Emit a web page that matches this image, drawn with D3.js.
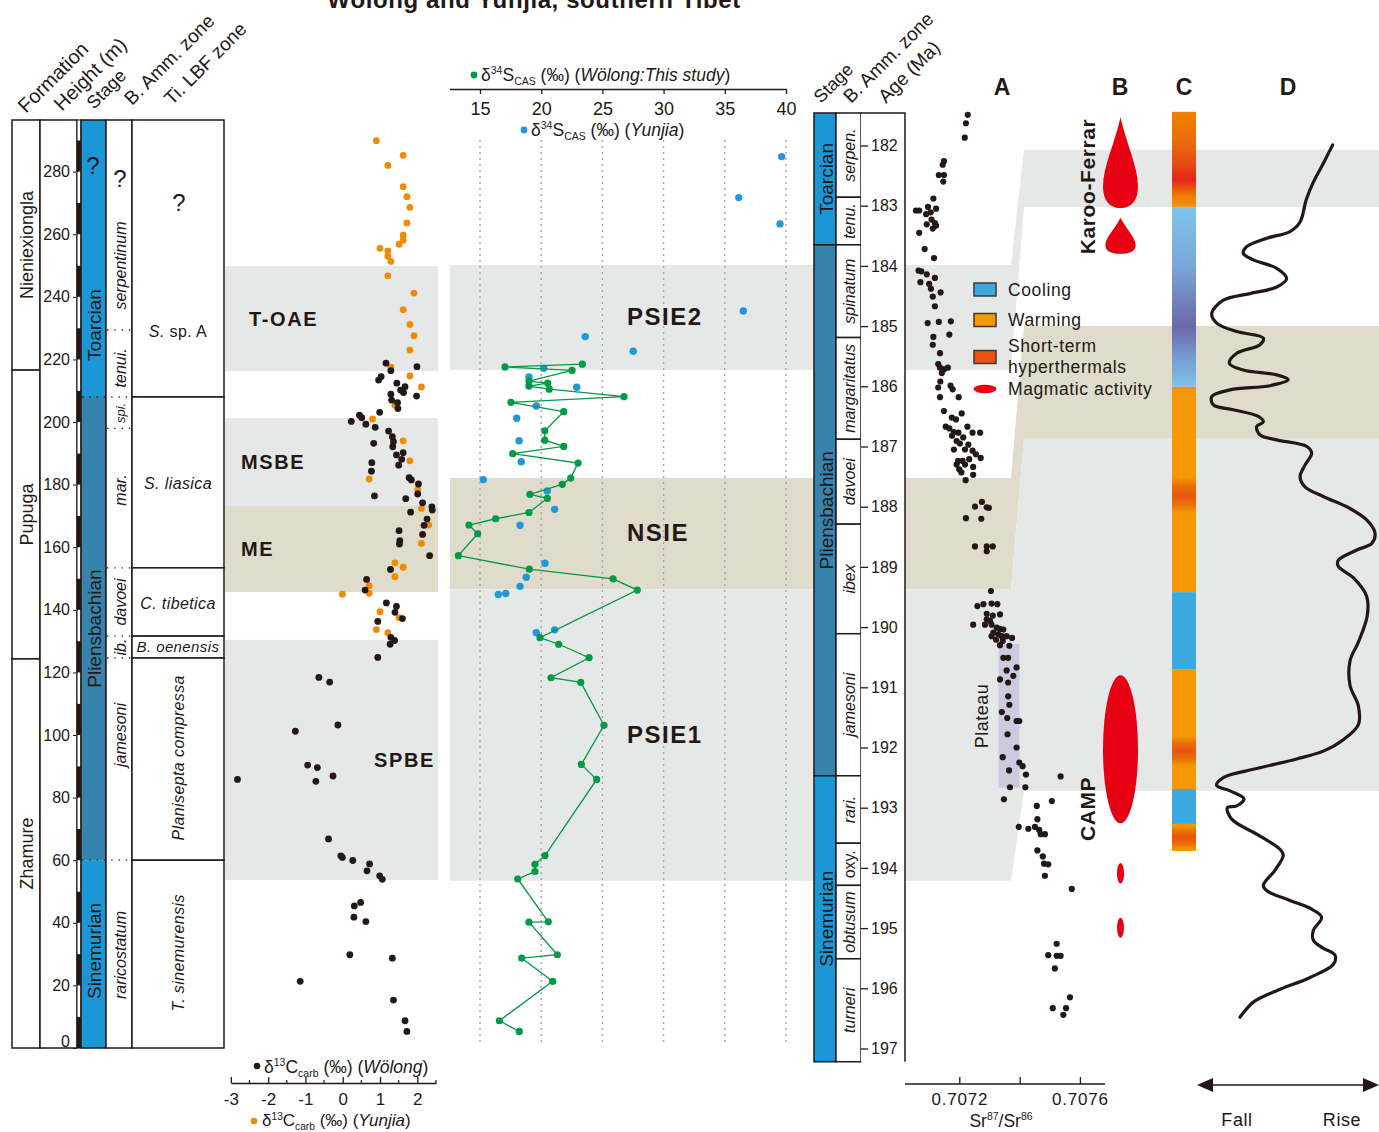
<!DOCTYPE html>
<html><head><meta charset="utf-8">
<script src="https://cdn.jsdelivr.net/npm/d3@7"></script>
<style>
body{margin:0;background:#fff}
svg{display:block}
text{font-family:"Liberation Sans",Arial,Helvetica,sans-serif;fill:#231815}
</style></head>
<body><svg id="c" width="1379" height="1132"></svg>
<script>
// ---------------- DATA ----------------
const heightTicks = [0,20,40,60,80,100,120,140,160,180,200,220,240,260,280];
const carbonTicks = [-3,-2,-1,0,1,2];
const carbonMinorTicks = [-2.5,-1.5,-0.5,0.5,1.5,2.5];
const sulfurTicks = [15,20,25,30,35,40];
const ageTicks = [182,183,184,185,186,187,188,189,190,191,192,193,194,195,196,197];
const srTicks = [0.7072,0.7074,0.7076];
const srTickLabels = ["0.7072","","0.7076"];

const formations = [
  {name:"Nieniexiongla", from:216.6, to:296.5},
  {name:"Pupuga", from:124.3, to:216.6},
  {name:"Zhamure", from:0, to:124.3}
];
const stagesLeft = [
  {name:"Toarcian", from:208, to:296.5, label:231, kind:"a"},
  {name:"Pliensbachian", from:60, to:208, label:134, kind:"b"},
  {name:"Sinemurian", from:0, to:60, label:31, kind:"a"}
];
const ammLeft = [
  {name:"serpentinum", from:229.4, to:296.5, label:250},
  {name:"tenui.", from:208, to:229.4, label:217.3},
  {name:"spi.", from:198, to:208, label:202.9},
  {name:"mar.", from:153.4, to:198, label:178.3},
  {name:"davoei", from:131.6, to:153.4, label:142.5},
  {name:"ib.", from:124.6, to:131.6, label:128.1},
  {name:"jamesoni", from:60, to:124.6, label:100},
  {name:"raricostatum", from:0, to:60, label:29.7}
];
const tiZones = [
  {name:"S. sp. A", from:208, to:296.5, label:228.8, rot:false},
  {name:"S. liasica", from:153.4, to:208, label:180.5, rot:false},
  {name:"C. tibetica", from:131.6, to:153.4, label:142.2, rot:false},
  {name:"B. oenensis", from:124.6, to:131.6, label:128.1, rot:false},
  {name:"Planisepta compressa", from:60, to:124.6, label:92.7, rot:true},
  {name:"T. sinemurensis", from:0, to:60, label:30.4, rot:true}
];
const unknownMarks = [{col:"stage", h:282}, {col:"amm", h:277.8}, {col:"ti", h:270}];

const stagesRight = [
  {name:"Toarcian", from:181.46, to:183.65, kind:"a"},
  {name:"Pliensbachian", from:183.65, to:192.47, kind:"b"},
  {name:"Sinemurian", from:192.47, to:197.22, kind:"a"}
];
const ammRight = [
  {name:"serpen.", from:181.46, to:182.86},
  {name:"tenu.", from:182.86, to:183.65},
  {name:"spinatum", from:183.65, to:185.19},
  {name:"margaritatus", from:185.19, to:186.88},
  {name:"davoei", from:186.88, to:188.29},
  {name:"ibex", from:188.29, to:190.11},
  {name:"jamesoni", from:190.11, to:192.47},
  {name:"rari.", from:192.47, to:193.59},
  {name:"oxy.", from:193.59, to:194.29, upright:true},
  {name:"obtusum", from:194.29, to:195.51},
  {name:"turneri", from:195.51, to:197.22}
];

// carbon-isotope events (heights, m)
const carbonBands = [
  {name:"T-OAE", from:216.3, to:249.8, kind:"gray"},
  {name:"MSBE", from:173.2, to:201.3, kind:"gray"},
  {name:"ME", from:145.7, to:173.2, kind:"beige"},
  {name:"SPBE", from:53.7, to:130.4, kind:"gray"}
];
// sulfur-isotope events (heights, m) and their projection on the right time scale (Ma)
const sulfurBands = [
  {name:"PSIE2", from:216.6, to:250.2, ageFrom:182.07, ageTo:183.02, kind:"gray"},
  {name:"NSIE", from:146.6, to:182.1, ageFrom:185.0, ageTo:186.87, kind:"beige"},
  {name:"PSIE1", from:53.4, to:146.6, ageFrom:186.87, ageTo:192.72, kind:"gray"}
];

// δ13Ccarb (‰), height (m)
const carbonWolong = [[1.16,218.8],[1.99,217.7],[1.29,216.4],[1.03,214.5],[0.96,213.4],[1.45,212.4],[1.67,211.3],[1.55,210.2],[1.63,209.4],[1.98,208.3],[1.29,208.9],[1.31,207.0],[1.47,206.2],[1.48,204.3],[0.99,203.1],[0.45,202.2],[0.51,201.4],[0.23,200.2],[0.62,199.3],[0.87,198.3],[1.23,197.1],[1.33,195.3],[1.36,193.7],[0.83,193.2],[1.34,192.1],[1.62,190.2],[1.44,189.5],[1.58,188.1],[0.78,187.0],[1.50,186.2],[0.77,184.3],[1.78,182.2],[1.84,181.5],[2.03,180.2],[2.01,177.0],[0.85,176.4],[1.69,175.5],[2.14,174.2],[2.39,172.9],[1.82,171.2],[2.40,171.9],[2.26,169.0],[2.18,167.0],[1.51,165.3],[2.14,164.1],[1.53,162.1],[1.52,161.0],[2.33,157.3],[1.28,152.9],[0.64,149.7],[0.60,146.3],[1.17,142.2],[1.44,141.1],[1.40,139.2],[1.60,137.2],[0.94,136.3],[1.29,131.2],[1.39,130.2],[1.27,129.0],[0.94,124.8],[-0.64,118.4],[-0.35,116.9],[-0.13,103.2],[-1.27,101.2],[-0.94,90.4],[-0.68,89.6],[-0.26,86.9],[-0.72,85.2],[-2.82,85.8],[-0.38,66.8],[-0.05,61.4],[-0.01,60.9],[0.27,59.9],[0.72,58.8],[0.65,56.6],[0.99,55.0],[1.06,53.9],[0.48,46.5],[0.31,45.4],[0.30,41.8],[0.62,40.4],[0.19,29.8],[1.33,28.7],[-1.14,21.3],[1.36,15.3],[1.67,8.7],[1.72,5.3]];
const carbonYunjia = [[0.90,289.9],[1.62,285.2],[1.21,282.0],[1.62,275.2],[1.72,272.0],[1.80,268.6],[1.72,263.6],[1.62,259.7],[1.62,258.1],[1.51,256.8],[1.00,255.5],[1.21,254.7],[1.21,253.0],[1.29,251.3],[1.21,246.7],[1.91,241.2],[1.62,235.9],[1.80,231.2],[1.91,227.6],[1.80,223.0],[1.29,217.5],[1.80,214.7],[2.11,211.2],[1.40,205.4],[0.80,201.0],[1.62,194.0],[1.80,187.6],[0.71,181.8],[2.01,178.5],[2.11,172.4],[2.30,167.1],[2.11,161.2],[1.40,155.0],[1.62,153.6],[1.40,150.6],[0.71,147.7],[-0.01,145.0],[0.71,145.3],[1.00,139.4],[1.51,137.5],[0.90,133.7],[1.21,132.7]];

// δ34S_CAS (‰), height (m)
const sulfurWolong = [[23.36,218.5],[17.04,217.6],[22.52,216.5],[19.00,213.1],[20.53,212.4],[19.00,211.5],[20.66,210.5],[26.76,208.1],[17.53,206.3],[21.84,203.3],[20.29,197.2],[20.29,194.2],[21.84,192.2],[17.67,189.9],[23.01,186.9],[22.41,182.1],[21.72,180.1],[19.08,176.9],[20.50,175.6],[19.00,171.1],[16.28,169.1],[14.10,167.1],[14.81,164.3],[13.23,157.3],[19.03,153.0],[25.87,149.9],[27.85,146.3],[19.90,131.1],[21.43,129.0],[23.91,124.7],[20.80,118.3],[23.23,116.8],[25.13,103.1],[23.28,90.6],[24.53,85.8],[20.31,61.5],[19.49,58.7],[19.49,56.4],[18.08,54.0],[20.58,40.3],[19.00,40.2],[21.32,29.8],[18.41,28.7],[20.94,21.3],[16.58,8.7],[18.21,5.3]];
const sulfurYunjia = [[39.65,284.8],[36.14,271.7],[39.51,263.3],[36.51,235.5],[23.60,227.3],[27.52,222.6],[20.20,217.2],[19.00,214.4],[22.90,211.1],[19.60,205.1],[18.00,201.2],[18.19,194.0],[18.37,187.3],[15.27,181.6],[20.50,178.0],[21.10,172.1],[18.27,167.0],[20.31,154.9],[18.78,150.4],[18.27,147.5],[16.50,144.9],[17.10,145.2],[21.10,133.6],[19.60,132.7]];

// 87Sr/86Sr, age (Ma)
const srRatio = [0.707228,0.707222,0.707218,0.707149,0.707145,0.707132,0.707149,0.707147,0.707056,0.707067,0.707114,0.707096,0.707123,0.707105,0.707090,0.707108,0.707119,0.707092,0.707112,0.707123,0.707067,0.707085,0.707116,0.707065,0.707074,0.707092,0.707071,0.707119,0.707100,0.707106,0.707138,0.707112,0.707119,0.707095,0.707132,0.707172,0.707167,0.707114,0.707112,0.707136,0.707130,0.707136,0.707149,0.707162,0.707142,0.707137,0.707130,0.707171,0.707178,0.707136,0.707198,0.707149,0.707208,0.707175,0.707189,0.707155,0.707227,0.707167,0.707182,0.707197,0.707244,0.707269,0.707176,0.707213,0.707191,0.707202,0.707230,0.707182,0.707219,0.707244,0.707255,0.707271,0.707196,0.707211,0.707233,0.707191,0.707219,0.707200,0.707246,0.707207,0.707246,0.707221,0.707275,0.707252,0.707291,0.707298,0.707222,0.707273,0.707252,0.707291,0.707311,0.707291,0.707305,0.707260,0.707280,0.707307,0.707326,0.707291,0.707311,0.707335,0.707246,0.707291,0.707302,0.707285,0.707307,0.707324,0.707335,0.707346,0.707313,0.707329,0.707307,0.707341,0.707357,0.707322,0.707344,0.707375,0.707335,0.707366,0.707346,0.707362,0.707357,0.707390,0.707379,0.707335,0.707362,0.707362,0.707366,0.707341,0.707359,0.707390,0.707399,0.707360,0.707390,0.707344,0.707399,0.707410,0.707365,0.707421,0.707536,0.707368,0.707419,0.707348,0.707507,0.707457,0.707397,0.707429,0.707459,0.707451,0.707465,0.707470,0.707484,0.707459,0.707477,0.707481,0.707495,0.707484,0.707573,0.707523,0.707495,0.707523,0.707536,0.707517,0.707567,0.707510,0.707554,0.707545];
const srAge = [181.49,181.63,181.87,182.26,182.32,182.49,182.49,182.60,183.08,183.08,182.88,183.02,183.05,183.11,183.14,183.23,183.29,183.31,183.38,183.33,183.45,183.72,183.87,184.08,184.09,184.14,184.27,184.20,184.30,184.38,184.44,184.51,184.67,184.95,184.93,184.92,185.14,185.18,185.31,185.45,185.63,185.69,185.72,185.69,185.78,185.92,186.02,185.99,186.05,186.18,186.18,186.41,186.45,186.52,186.55,186.67,186.67,186.70,186.76,186.77,186.77,186.77,186.82,186.85,186.91,186.95,186.97,187.05,187.05,187.07,187.13,187.19,187.24,187.24,187.21,187.30,187.30,187.38,187.34,187.43,187.47,187.56,187.92,188.00,188.01,188.02,188.19,188.20,188.66,188.66,188.66,188.74,189.40,189.65,189.62,189.61,189.62,189.78,189.81,189.79,189.96,189.87,189.90,189.96,189.96,190.01,190.03,190.04,190.09,190.12,190.15,190.15,190.15,190.21,190.23,190.18,190.30,190.31,190.51,190.51,190.72,190.67,190.81,190.87,190.92,191.15,191.29,191.41,191.51,191.56,191.56,191.78,192.00,192.16,192.25,192.31,192.38,192.45,192.48,192.66,192.66,192.86,192.89,192.97,193.32,193.35,193.19,193.32,193.37,193.44,193.44,193.71,193.81,193.93,193.94,194.13,194.35,195.26,195.45,195.46,195.46,195.67,196.15,196.33,196.33,196.44];
const plateau = {sr:[0.70733,0.70740], age:[190.28,192.67]};

// B: magmatic activity (Ma)
const magmatic = [
  {name:"Karoo-Ferrar", shape:"drop", from:181.53, to:183.04},
  {name:"Karoo-Ferrar", shape:"drop", from:183.20, to:183.80},
  {name:"CAMP", shape:"ellipse", from:190.80, to:193.26},
  {name:"CAMP", shape:"ellipse", from:193.92, to:194.26},
  {name:"CAMP", shape:"ellipse", from:194.83, to:195.16}
];
// C: climate (Ma)
const climate = [
  {from:181.44, to:183.02, kind:"hyperTop", pulse:[182.30,182.85]},
  {from:183.02, to:186.01, kind:"coolDeep", pulse:[185.0,185.0]},
  {from:186.01, to:189.42, kind:"warm", pulse:[187.51,188.11]},
  {from:189.42, to:190.70, kind:"cool"},
  {from:190.70, to:192.69, kind:"warm", pulse:[191.81,192.31]},
  {from:192.69, to:193.27, kind:"cool"},
  {from:193.27, to:193.72, kind:"warm", pulse:[193.30,193.70]}
];
// D: relative sea level (0 = fall, 100 = rise), age (Ma)
const seaLevel = [[74.4,181.99],[69.2,182.30],[63.4,182.63],[59.7,182.91],[56.4,183.27],[50.8,183.43],[38.0,183.54],[26.9,183.68],[25.0,183.79],[30.6,183.90],[43.5,184.04],[49.0,184.21],[43.5,184.35],[28.7,184.46],[14.0,184.57],[7.6,184.79],[10.3,184.95],[21.4,185.09],[36.1,185.20],[34.3,185.31],[21.4,185.45],[17.3,185.62],[25.0,185.73],[43.5,185.81],[49.9,185.89],[39.8,185.99],[17.7,186.06],[7.6,186.17],[8.5,186.31],[19.5,186.39],[33.3,186.50],[36.1,186.59],[32.4,186.67],[34.3,186.81],[43.5,186.89],[60.1,187.00],[62.8,187.11],[59.1,187.31],[56.4,187.50],[59.1,187.67],[69.2,187.83],[84.0,188.03],[93.2,188.22],[97.8,188.44],[96.0,188.61],[87.7,188.72],[77.5,188.89],[77.5,188.99],[85.8,189.18],[93.2,189.49],[93.5,189.81],[88.6,190.25],[84.0,190.56],[84.0,190.97],[88.6,191.31],[88.6,191.62],[80.3,191.87],[69.2,192.06],[54.5,192.19],[32.4,192.35],[14.0,192.50],[10.3,192.63],[17.7,192.72],[25.4,192.85],[21.4,192.97],[16.2,193.00],[18.6,193.19],[32.4,193.44],[45.3,193.69],[47.1,193.79],[42.5,194.04],[36.1,194.29],[38.0,194.38],[50.8,194.54],[61.9,194.67],[68.3,194.82],[63.7,195.04],[63.7,195.20],[68.3,195.32],[75.7,195.45],[74.8,195.60],[61.9,195.82],[43.5,196.04],[30.6,196.23],[23.2,196.48]];

const legendItems = [
  {label:["Cooling"], kind:"cool"},
  {label:["Warming"], kind:"warm"},
  {label:["Short-term","hyperthermals"], kind:"hyper"},
  {label:["Magmatic activity"], kind:"magma"}
];

// ---------------- STYLE / SCALES ----------------
const INK = "#231815", GRAY = "#e6e8e8", BEIGE = "#dfdccb";
const BLUE_A = "#1b96d6", BLUE_B = "#3683ae";
const ORANGE = "#f39800", HYPER = "#e8540f", COOL = "#3ca8e0", RED = "#e60012";
const C_BLACK = "#231815", C_ORANGE = "#f08a00", S_GREEN = "#009944", S_BLUE = "#1f97d8";
const FONT = '"Liberation Sans",Arial,sans-serif';

const svg = d3.select("#c");
const defs = svg.append("defs");
const yH = d3.scaleLinear().domain([0, 296.5]).range([1048, 120]);
const yA = d3.scaleLinear().domain([182, 197]).range([145.5, 1048.5]);
const xC = d3.scaleLinear().domain([-3, 2.5]).range([230.8, 436]);
const xS = d3.scaleLinear().domain([12.5, 40]).range([449.4, 786]);
const xSr = d3.scaleLinear().domain([0.7072, 0.7076]).range([959.3, 1079.9]);
const xD = d3.scaleLinear().domain([0, 100]).range([1198, 1379]);
const bandFill = k => k === "beige" ? BEIGE : GRAY;

function rich(parent, x, y, parts, size, anchor) {
  const t = parent.append("text").attr("x", x).attr("y", y).attr("font-size", size)
    .attr("text-anchor", anchor || "start");
  let shift = 0;
  parts.forEach(p => {
    const s = p.s || 0;
    const target = s === 1 ? -size * 0.38 : s === -1 ? size * 0.22 : 0;
    const ts = t.append("tspan").text(p.t).attr("dy", (target - shift).toFixed(2));
    if (s) ts.attr("font-size", (size * 0.6).toFixed(1));
    if (p.i) ts.attr("font-style", "italic");
    shift = target;
  });
  return t;
}
function vtext(parent, x, y, txt, size, opts) {
  opts = opts || {};
  return parent.append("text").attr("transform", `translate(${x},${y}) rotate(-90)`)
    .attr("text-anchor", "middle").attr("dy", "0.35em").attr("font-size", size)
    .attr("font-style", opts.italic ? "italic" : null).attr("font-weight", opts.bold ? "bold" : null)
    .attr("letter-spacing", opts.ls || null).text(txt);
}

// ---------------- TITLE ----------------
svg.append("text").attr("x", 534).attr("y", 8).attr("text-anchor", "middle")
  .attr("font-size", 24).attr("font-weight", "bold").attr("letter-spacing", 0.6)
  .text("Wölong and Yunjia, southern Tibet");

// ---------------- BANDS ----------------
const gB = svg.append("g");
gB.selectAll("rect.cb").data(carbonBands).join("rect")
  .attr("x", 225).attr("width", 213)
  .attr("y", d => yH(d.to)).attr("height", d => yH(d.from) - yH(d.to))
  .attr("fill", d => bandFill(d.kind));
gB.selectAll("path.sb").data(sulfurBands).join("path")
  .attr("fill", d => bandFill(d.kind))
  .attr("d", d => {
    const a = yH(d.to), b = yH(d.from), c = yA(d.ageFrom), e = yA(d.ageTo);
    return `M450,${a}L1011,${a}L1024,${c}L1379,${c}L1379,${e}L1024,${e}L1011,${b}L450,${b}Z`;
  });

// sulfur gridlines
svg.append("g").selectAll("line").data(sulfurTicks).join("line")
  .attr("x1", d => xS(d)).attr("x2", d => xS(d)).attr("y1", 140).attr("y2", 1045)
  .attr("stroke", "#a5a5a5").attr("stroke-width", 1.4).attr("stroke-dasharray", "2,4");

// band labels
const cbLabelX = {"T-OAE":249, "MSBE":241, "ME":241, "SPBE":374};
carbonBands.forEach(d => {
  svg.append("text").attr("x", cbLabelX[d.name]).attr("y", (yH(d.to) + yH(d.from)) / 2)
    .attr("dy", "0.36em").attr("font-size", 20).attr("font-weight", "bold")
    .attr("letter-spacing", 1.6).text(d.name);
});
sulfurBands.forEach(d => {
  svg.append("text").attr("x", 627).attr("y", (yH(d.to) + yH(d.from)) / 2 - 1)
    .attr("dy", "0.36em").attr("font-size", 24).attr("font-weight", "bold")
    .attr("letter-spacing", 1.5).text(d.name);
});

// ---------------- LEFT COLUMN ----------------
const gL = svg.append("g").attr("stroke-linejoin", "miter");
const topY = yH(296.5), botY = yH(0);
// formation
formations.forEach(f => {
  gL.append("rect").attr("x", 12).attr("y", yH(f.to)).attr("width", 28)
    .attr("height", yH(f.from) - yH(f.to)).attr("fill", "#fff").attr("stroke", INK).attr("stroke-width", 1.5);
  vtext(gL, 27, (yH(f.from) + yH(f.to)) / 2, f.name, 18);
});
// height column
gL.append("rect").attr("x", 40).attr("y", topY).attr("width", 37).attr("height", botY - topY)
  .attr("fill", "#fff").attr("stroke", INK).attr("stroke-width", 1.5);
const hAxis = gL.append("g").attr("transform", "translate(76,0)")
  .call(d3.axisLeft(yH).tickValues(heightTicks).tickSize(3).tickPadding(3));
hAxis.select(".domain").remove();
hAxis.selectAll("line").attr("stroke", INK);
hAxis.selectAll("text").attr("font-size", 16).attr("font-family", FONT).attr("fill", INK);
hAxis.selectAll("text").filter(d => d === 0).attr("dy", "-0.1em");
// scale bar
const barSegs = d3.range(0, 296.5, 10);
gL.selectAll("rect.bar").data(barSegs).join("rect")
  .attr("x", 77).attr("width", 4)
  .attr("y", d => yH(Math.min(d + 10, 296.5))).attr("height", d => yH(d) - yH(Math.min(d + 10, 296.5)))
  .attr("fill", (d, i) => i % 2 === 0 ? INK : "#fff");
gL.append("rect").attr("x", 77).attr("y", topY).attr("width", 4).attr("height", botY - topY)
  .attr("fill", "none").attr("stroke", INK).attr("stroke-width", 1);
// stage
stagesLeft.forEach(s => {
  gL.append("rect").attr("x", 81).attr("y", yH(s.to)).attr("width", 25).attr("height", yH(s.from) - yH(s.to))
    .attr("fill", s.kind === "a" ? BLUE_A : BLUE_B);
  vtext(gL, 94, yH(s.label), s.name, 19);
});
gL.append("rect").attr("x", 81).attr("y", topY).attr("width", 25).attr("height", botY - topY)
  .attr("fill", "none").attr("stroke", INK).attr("stroke-width", 1.5);
// amm zones
gL.append("rect").attr("x", 106).attr("y", topY).attr("width", 26).attr("height", botY - topY)
  .attr("fill", "#fff").attr("stroke", INK).attr("stroke-width", 1.5);
ammLeft.forEach((z, i) => {
  const small = z.name === "spi.";
  vtext(gL, 120, yH(z.label), z.name, small ? 13 : 16, {italic: true});
  if (i > 0) {
    const stageB = stagesLeft.some(s => s.to === z.to);
    gL.append("line").attr("x1", stageB ? 82 : 107).attr("x2", 131).attr("y1", yH(z.to)).attr("y2", yH(z.to))
      .attr("stroke", INK).attr("stroke-width", 1.3).attr("stroke-dasharray", "1.3,6");
  }
});
// Ti zones
tiZones.forEach(z => {
  gL.append("rect").attr("x", 132).attr("y", yH(z.to)).attr("width", 92).attr("height", yH(z.from) - yH(z.to))
    .attr("fill", "#fff").attr("stroke", INK).attr("stroke-width", 1.5);
  const cy = yH(z.label);
  let t;
  if (z.rot) {
    t = gL.append("text").attr("transform", `translate(178,${cy}) rotate(-90)`).attr("dy", "0.35em");
  } else {
    t = gL.append("text").attr("x", 178).attr("y", cy).attr("dy", "0.35em");
  }
  t.attr("text-anchor", "middle").attr("font-size", z.name === "B. oenensis" ? 15 : 16).attr("letter-spacing", 0.4);
  if (z.name === "S. sp. A") {
    t.append("tspan").attr("font-style", "italic").text("S.");
    t.append("tspan").text(" sp. A");
  } else {
    t.attr("font-style", "italic").text(z.name);
  }
});
unknownMarks.forEach(m => {
  const x = m.col === "stage" ? 93 : m.col === "amm" ? 120 : 179;
  gL.append("text").attr("x", x).attr("y", yH(m.h)).attr("dy", "0.35em").attr("text-anchor", "middle")
    .attr("font-size", 24).text("?");
});
// headers
[["Formation", 26, 114, 20], ["Height (m)", 62, 112, 20], ["Stage", 94, 110, 18], ["B. Amm. zone", 132, 106, 19], ["Ti. LBF zone", 172, 106, 19],
 ["Stage", 821, 104, 18], ["B. Amm. zone", 851, 104, 19], ["Age (Ma)", 886, 104, 19]].forEach(([t, x, y, fs]) => {
  svg.append("text").attr("transform", `translate(${x},${y}) rotate(-45)`).attr("font-size", fs).text(t);
});

// ---------------- CARBON PANEL ----------------
const gC = svg.append("g");
gC.selectAll("circle.y").data(carbonYunjia).join("circle")
  .attr("cx", d => xC(d[0])).attr("cy", d => yH(d[1])).attr("r", 3.4).attr("fill", C_ORANGE);
gC.selectAll("circle.w").data(carbonWolong).join("circle")
  .attr("cx", d => xC(d[0])).attr("cy", d => yH(d[1])).attr("r", 3.4).attr("fill", C_BLACK);
const cAxis = gC.append("g").attr("transform", "translate(0,1083)")
  .call(d3.axisBottom(xC).tickValues(carbonTicks).tickSize(-6).tickSizeOuter(0).tickPadding(10)
    .tickFormat(d => String(d)));
cAxis.select(".domain").attr("stroke", INK).attr("stroke-width", 1.3);
cAxis.selectAll(".tick line").attr("stroke", INK).attr("stroke-width", 1.3);
cAxis.selectAll("text").attr("font-size", 17).attr("font-family", FONT).attr("fill", INK);
gC.selectAll("line.mn").data(carbonMinorTicks).join("line")
  .attr("x1", d => xC(d)).attr("x2", d => xC(d)).attr("y1", 1083).attr("y2", 1080)
  .attr("stroke", INK).attr("stroke-width", 1.2);
gC.append("circle").attr("cx", 257).attr("cy", 1066).attr("r", 3.3).attr("fill", C_BLACK);
rich(gC, 264, 1073, [{t:"δ"},{t:"13",s:1},{t:"C"},{t:"carb",s:-1},{t:" (‰) ("},{t:"Wölong",i:1},{t:")"}], 17.5);
gC.append("circle").attr("cx", 254).attr("cy", 1121).attr("r", 3.3).attr("fill", C_ORANGE);
rich(gC, 262, 1126, [{t:"δ"},{t:"13",s:1},{t:"C"},{t:"carb",s:-1},{t:" (‰) ("},{t:"Yunjia",i:1},{t:")"}], 17);

// ---------------- SULFUR PANEL ----------------
const gS = svg.append("g");
const sAxis = gS.append("g").attr("transform", "translate(0,89)")
  .call(d3.axisBottom(xS).tickValues(sulfurTicks).tickSize(5).tickSizeOuter(0).tickPadding(8));
sAxis.select(".domain").attr("stroke", INK).attr("stroke-width", 1.5);
sAxis.selectAll(".tick line").attr("stroke", INK).attr("stroke-width", 1.3);
sAxis.selectAll("text").attr("font-size", 18).attr("font-family", FONT).attr("fill", INK);
gS.append("circle").attr("cx", 474).attr("cy", 75).attr("r", 3.4).attr("fill", S_GREEN);
rich(gS, 481, 81, [{t:"δ"},{t:"34",s:1},{t:"S"},{t:"CAS",s:-1},{t:" (‰) ("},{t:"Wölong:This study",i:1},{t:")"}], 17.5);
gS.append("circle").attr("cx", 524).attr("cy", 130).attr("r", 3.4).attr("fill", S_BLUE);
rich(gS, 531, 136, [{t:"δ"},{t:"34",s:1},{t:"S"},{t:"CAS",s:-1},{t:" (‰) ("},{t:"Yunjia",i:1},{t:")"}], 17.5);
gS.selectAll("circle.sy").data(sulfurYunjia).join("circle")
  .attr("cx", d => xS(d[0])).attr("cy", d => yH(d[1])).attr("r", 3.7).attr("fill", S_BLUE);
const sw = sulfurWolong.slice().sort((a, b) => b[1] - a[1]);
gS.append("path").datum(sw)
  .attr("d", d3.line().x(d => xS(d[0])).y(d => yH(d[1])))
  .attr("fill", "none").attr("stroke", S_GREEN).attr("stroke-width", 1.3);
gS.selectAll("circle.sw").data(sw).join("circle")
  .attr("cx", d => xS(d[0])).attr("cy", d => yH(d[1])).attr("r", 3.6).attr("fill", S_GREEN);

// ---------------- RIGHT COLUMNS ----------------
const gR = svg.append("g");
const rTop = yA(181.46), rBot = yA(197.22);
stagesRight.forEach(s => {
  gR.append("rect").attr("x", 814).attr("y", yA(s.from)).attr("width", 22).attr("height", yA(s.to) - yA(s.from))
    .attr("fill", s.kind === "a" ? BLUE_A : BLUE_B).attr("stroke", INK).attr("stroke-width", 1.5);
  vtext(gR, 826, (yA(s.from) + yA(s.to)) / 2, s.name, 19);
});
ammRight.forEach(z => {
  gR.append("rect").attr("x", 836).attr("y", yA(z.from)).attr("width", 25).attr("height", yA(z.to) - yA(z.from))
    .attr("fill", "#fff").attr("stroke", INK).attr("stroke-width", 1.5);
  vtext(gR, 849, (yA(z.from) + yA(z.to)) / 2, z.name, 16, {italic: !z.upright});
});
gR.append("rect").attr("x", 861).attr("y", rTop).attr("width", 44).attr("height", rBot - rTop)
  .attr("fill", "#fff").attr("stroke", "none");
gR.append("path").attr("d", `M861,${rTop}L905,${rTop}L905,${rBot}`).attr("fill", "none")
  .attr("stroke", INK).attr("stroke-width", 1.5);
const aAxis = gR.append("g").attr("transform", "translate(861,0)")
  .call(d3.axisRight(yA).tickValues(ageTicks).tickSize(7).tickPadding(3).tickFormat(d3.format("d")));
aAxis.select(".domain").remove();
aAxis.selectAll("line").attr("stroke", INK).attr("stroke-width", 1.3);
aAxis.selectAll("text").attr("font-size", 16).attr("font-family", FONT).attr("fill", INK);

// ---------------- Sr PANEL (A) ----------------
const gA = svg.append("g");
gA.append("rect").attr("x", xSr(plateau.sr[0])).attr("y", yA(plateau.age[0]))
  .attr("width", xSr(plateau.sr[1]) - xSr(plateau.sr[0])).attr("height", yA(plateau.age[1]) - yA(plateau.age[0]))
  .attr("fill", "#cdcadf");
vtext(gA, 982, 716, "Plateau", 18, {ls: 0.5});
gA.selectAll("circle").data(srRatio.map((r, i) => [r, srAge[i]])).join("circle")
  .attr("cx", d => xSr(d[0])).attr("cy", d => yA(d[1])).attr("r", 3.1).attr("fill", INK);
gA.append("line").attr("x1", 905).attr("x2", 1105).attr("y1", 1084).attr("y2", 1084)
  .attr("stroke", INK).attr("stroke-width", 1.5);
const srAx = gA.append("g").attr("transform", "translate(0,1084)")
  .call(d3.axisBottom(xSr).tickValues(srTicks).tickSize(-7).tickSizeOuter(0).tickPadding(9)
    .tickFormat((d, i) => srTickLabels[i]));
srAx.select(".domain").remove();
srAx.selectAll("line").attr("stroke", INK).attr("stroke-width", 1.3);
srAx.selectAll("text").attr("font-size", 17).attr("font-family", FONT).attr("fill", INK).attr("letter-spacing", 0.8);
rich(gA, 1001, 1127, [{t:"Sr"},{t:"87",s:1},{t:"/Sr"},{t:"86",s:1}], 17.5, "middle");

// legend
const legY = [289.5, 320, 357, 389];
legendItems.forEach((it, i) => {
  const y = legY[i];
  if (it.kind === "magma") {
    gA.append("ellipse").attr("cx", 985).attr("cy", y).attr("rx", 11.5).attr("ry", 4.2).attr("fill", RED);
  } else {
    gA.append("rect").attr("x", 974).attr("y", y - 6.5).attr("width", 22).attr("height", 13)
      .attr("fill", it.kind === "cool" ? COOL : it.kind === "warm" ? ORANGE : HYPER)
      .attr("stroke", "#3e3a39").attr("stroke-width", 1.5);
  }
  const t = gA.append("text").attr("x", 1008).attr("font-size", 17.5).attr("letter-spacing", 0.6);
  if (it.label.length === 1) {
    t.attr("y", y).attr("dy", "0.35em").text(it.label[0]);
  } else {
    t.attr("y", y - 11).attr("dy", "0.35em");
    it.label.forEach((l, j) => t.append("tspan").attr("x", 1008).attr("dy", j === 0 ? "0.35em" : "1.2em").text(l));
  }
});

// column letters
[["A",1002],["B",1120],["C",1184],["D",1288]].forEach(([t, x]) => {
  svg.append("text").attr("x", x).attr("y", 95).attr("text-anchor", "middle")
    .attr("font-size", 23).attr("font-weight", "bold").text(t);
});

// ---------------- B: MAGMATIC ----------------
const gMag = svg.append("g");
magmatic.forEach(m => {
  const cx = 1120.5, top = yA(m.from), bot = yA(m.to), H = bot - top;
  if (m.shape === "drop") {
    const w = Math.min(17.5, H * 0.42);
    gMag.append("path").attr("fill", RED).attr("d",
      `M${cx},${top} C${cx + w * 0.35},${top + H * 0.3} ${cx + w},${top + H * 0.55} ${cx + w},${top + H * 0.76}` +
      ` C${cx + w},${top + H * 0.93} ${cx + w * 0.55},${bot} ${cx},${bot}` +
      ` C${cx - w * 0.55},${bot} ${cx - w},${top + H * 0.93} ${cx - w},${top + H * 0.76}` +
      ` C${cx - w},${top + H * 0.55} ${cx - w * 0.35},${top + H * 0.3} ${cx},${top}Z`);
  } else {
    const ry = H / 2, rx = Math.min(17.5, ry * 0.35);
    gMag.append("ellipse").attr("cx", cx).attr("cy", top + ry).attr("rx", rx).attr("ry", ry).attr("fill", RED);
  }
});
vtext(svg, 1088, yA(182.68), "Karoo-Ferrar", 21, {bold: true, ls: 0.6});
vtext(svg, 1088, yA(193.02), "CAMP", 21, {bold: true, ls: 0.6});

// ---------------- C: CLIMATE ----------------
const gCl = svg.append("g");
climate.forEach((c, i) => {
  const id = "cg" + i;
  const g = defs.append("linearGradient").attr("id", id).attr("x1", 0).attr("y1", 0).attr("x2", 0).attr("y2", 1);
  const rel = a => (a - c.from) / (c.to - c.from);
  let stops;
  if (c.kind === "cool") stops = [[0, COOL], [1, COOL]];
  else if (c.kind === "coolDeep") {
    const p = rel(c.pulse[0]);
    stops = [[0, "#80c4eb"], [p * 0.5, "#7aa6d8"], [p, "#6b67ab"], [p + (1 - p) * 0.5, "#7599cf"], [1, "#80c4eb"]];
  } else if (c.kind === "hyperTop") {
    const p0 = rel(c.pulse[0]), p1 = rel(c.pulse[1]);
    stops = [[0, "#f08300"], [p0 * 0.6, "#eb6a0c"], [p0, "#e74a14"], [(p0 + p1) / 2, "#e3261b"], [p1, "#ef7e04"], [1, ORANGE]];
  } else {
    const p0 = rel(c.pulse[0]), p1 = rel(c.pulse[1]), pm = (p0 + p1) / 2;
    stops = [[0, ORANGE], [p0, ORANGE], [p0 + (pm - p0) * 0.5, "#ec6c07"], [pm, HYPER], [pm + (p1 - pm) * 0.5, "#ec7006"], [p1, ORANGE], [1, ORANGE]];
  }
  stops.forEach(([o, col]) => g.append("stop").attr("offset", Math.max(0, Math.min(1, o))).attr("stop-color", col));
  gCl.append("rect").attr("x", 1172).attr("y", yA(c.from)).attr("width", 24).attr("height", yA(c.to) - yA(c.from))
    .attr("fill", `url(#${id})`);
});

// ---------------- D: SEA LEVEL ----------------
svg.append("path").datum(seaLevel)
  .attr("d", d3.line().x(d => xD(d[0])).y(d => yA(d[1])).curve(d3.curveCatmullRom.alpha(0.5)))
  .attr("fill", "none").attr("stroke", INK).attr("stroke-width", 3.2).attr("stroke-linecap", "round");
const gDax = svg.append("g");
gDax.append("line").attr("x1", 1210).attr("x2", 1366).attr("y1", 1085).attr("y2", 1085).attr("stroke", INK).attr("stroke-width", 1.5);
gDax.append("path").attr("d", "M1197,1085 L1213,1078 L1213,1092 Z").attr("fill", INK);
gDax.append("path").attr("d", "M1379,1085 L1363,1078 L1363,1092 Z").attr("fill", INK);
gDax.append("text").attr("x", 1237).attr("y", 1126).attr("text-anchor", "middle").attr("font-size", 18).attr("letter-spacing", 0.6).text("Fall");
gDax.append("text").attr("x", 1342).attr("y", 1126).attr("text-anchor", "middle").attr("font-size", 18).attr("letter-spacing", 0.6).text("Rise");
</script></body></html>
